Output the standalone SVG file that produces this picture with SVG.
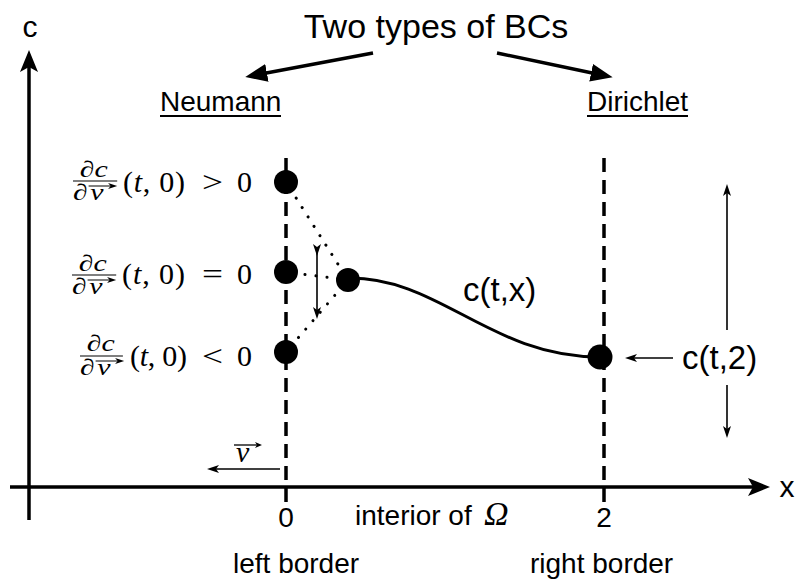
<svg xmlns="http://www.w3.org/2000/svg" width="795" height="581" viewBox="0 0 795 581">
<style>
.sans{font-family:"Liberation Sans",Arial,sans-serif;fill:#000}
.serif{font-family:"Liberation Serif","DejaVu Serif",serif;fill:#000}
.it{font-style:italic}
.axis{stroke:#000;stroke-width:3.5;fill:none}
.dash{stroke:#000;stroke-width:3.5;stroke-dasharray:14 8;fill:none}
.dot{stroke:#000;stroke-width:3;stroke-dasharray:0.1 11;stroke-linecap:round;fill:none}
.thin{stroke:#000;stroke-width:1.6;fill:none}
.bold{stroke:#000;stroke-width:3.5;fill:none}
.curve{stroke:#000;stroke-width:3;fill:none}
.bar{stroke:#000;stroke-width:1.2}
.vec{stroke:#000;stroke-width:1}
</style>
<defs>
<marker id="axh" markerUnits="userSpaceOnUse" markerWidth="26" markerHeight="20" refX="10" refY="9" orient="auto">
<path d="M0,0 L22,9 L0,18 L5,9 z" fill="#000"/>
</marker>
<marker id="bh" markerUnits="userSpaceOnUse" markerWidth="26" markerHeight="20" refX="6" refY="9" orient="auto">
<path d="M0,0 L22,9 L0,18 z" fill="#000"/>
</marker>
<marker id="th" markerUnits="userSpaceOnUse" markerWidth="14" markerHeight="10" refX="4" refY="4" orient="auto">
<path d="M0,0 L12,4 L0,8 L3,4 z" fill="#000"/>
</marker>
<marker id="vh" markerUnits="userSpaceOnUse" markerWidth="10" markerHeight="8" refX="3" refY="3" orient="auto">
<path d="M0,0 L7,3 L0,6 L2,3 z" fill="#000"/>
</marker>
</defs>

<g id="connectors">
<line class="axis" x1="29" y1="520" x2="29" y2="62" marker-end="url(#axh)"/>
<line class="axis" x1="10" y1="487" x2="758" y2="487" marker-end="url(#axh)"/>
<line class="dash" x1="286" y1="158" x2="286" y2="502"/>
<line class="dash" x1="604" y1="158" x2="604" y2="502"/>
<line class="bold" x1="373" y1="53" x2="261" y2="74" marker-end="url(#bh)"/>
<line class="bold" x1="497" y1="53" x2="597" y2="74" marker-end="url(#bh)"/>
<line class="dot" x1="286" y1="182" x2="348" y2="280" stroke-dashoffset="-8"/>
<line class="dot" x1="286" y1="272" x2="348" y2="280" stroke-dashoffset="-8"/>
<line class="dot" x1="286" y1="352" x2="348" y2="280" stroke-dashoffset="-8"/>
<line class="thin" x1="317" y1="248" x2="317" y2="311" marker-start="url(#th)" marker-end="url(#th)"/>
<path class="curve" d="M348,278 C440,277 490,357 600,357"/>
<line class="thin" x1="673" y1="358" x2="633" y2="358" marker-end="url(#th)"/>
<line class="thin" x1="727" y1="330" x2="727" y2="192" marker-end="url(#th)"/>
<line class="thin" x1="727" y1="385" x2="727" y2="430" marker-end="url(#th)"/>
<line class="thin" x1="280" y1="469" x2="215" y2="469" marker-end="url(#th)"/>
</g>

<g id="dots">
<circle cx="286" cy="182" r="12"/>
<circle cx="286" cy="272" r="12"/>
<circle cx="286" cy="352" r="12"/>
<circle cx="348" cy="280" r="12"/>
<circle cx="600" cy="357" r="12.5"/>
</g>

<g id="axis-labels">
<text class="sans" x="30" y="37" font-size="30" text-anchor="middle">c</text>
<text class="sans" x="787" y="497" font-size="30" text-anchor="middle">x</text>
<text class="sans" x="286" y="527" font-size="28" text-anchor="middle">0</text>
<text class="sans" x="604" y="527" font-size="28" text-anchor="middle">2</text>
</g>

<g id="title">
<text class="sans" x="436" y="38" font-size="34" text-anchor="middle">Two types of BCs</text>
</g>

<g id="neumann">
<text class="sans" x="160" y="111" font-size="28">Neumann</text>
<line x1="160" y1="116" x2="281" y2="116" stroke="#000" stroke-width="2"/>
</g>

<g id="dirichlet">
<text class="sans" x="587" y="111" font-size="28">Dirichlet</text>
<line x1="587" y1="116" x2="688" y2="116" stroke="#000" stroke-width="2"/>
</g>

<g id="label-gt">
<g transform="translate(73,0) scale(1.3,1)">
<text class="serif" x="16" y="177" font-size="23" text-anchor="middle">∂<tspan class="it">c</tspan></text>
<line class="bar" x1="0" y1="181" x2="34" y2="181"/>
<text class="serif" x="0" y="200" font-size="23">∂<tspan class="it" dx="2">ν</tspan></text>
<line class="vec" x1="12" y1="186" x2="30" y2="186" marker-end="url(#vh)"/>
</g>
<text class="serif" x="123" y="192" font-size="30" textLength="62" lengthAdjust="spacing">(<tspan class="it">t</tspan>, 0)</text>
<text class="serif" x="202" y="192" font-size="30" textLength="21" lengthAdjust="spacingAndGlyphs">&gt;</text>
<text class="serif" x="237" y="192" font-size="30">0</text>
</g>

<g id="label-eq">
<g transform="translate(72,0) scale(1.3,1)">
<text class="serif" x="16" y="271" font-size="23" text-anchor="middle">∂<tspan class="it">c</tspan></text>
<line class="bar" x1="0" y1="275" x2="34" y2="275"/>
<text class="serif" x="0" y="294" font-size="23">∂<tspan class="it" dx="2">ν</tspan></text>
<line class="vec" x1="12" y1="280" x2="30" y2="280" marker-end="url(#vh)"/>
</g>
<text class="serif" x="122" y="284" font-size="30" textLength="63" lengthAdjust="spacing">(<tspan class="it">t</tspan>, 0)</text>
<text class="serif" x="202" y="284" font-size="30" textLength="21" lengthAdjust="spacingAndGlyphs">=</text>
<text class="serif" x="237" y="284" font-size="30">0</text>
</g>

<g id="label-lt">
<g transform="translate(80,0) scale(1.3,1)">
<text class="serif" x="16" y="351" font-size="23" text-anchor="middle">∂<tspan class="it">c</tspan></text>
<line class="bar" x1="0" y1="356" x2="33" y2="356"/>
<text class="serif" x="0" y="375" font-size="23">∂<tspan class="it" dx="2">ν</tspan></text>
<line class="vec" x1="12" y1="361" x2="30" y2="361" marker-end="url(#vh)"/>
</g>
<text class="serif" x="130" y="366" font-size="30" textLength="57" lengthAdjust="spacing">(<tspan class="it">t</tspan>, 0)</text>
<text class="serif" x="202" y="366" font-size="30" textLength="21" lengthAdjust="spacingAndGlyphs">&lt;</text>
<text class="serif" x="237" y="366" font-size="30">0</text>
</g>

<g id="nu-label">
<text class="serif it" x="236" y="462" font-size="30">ν</text>
<line x1="234" y1="445" x2="258" y2="445" stroke="#000" stroke-width="1.3" marker-end="url(#vh)"/>
</g>

<g id="ctx-label">
<text class="sans" x="463" y="301" font-size="33">c(t,x)</text>
</g>

<g id="ct2-label">
<text class="sans" x="682" y="369" font-size="33">c(t,2)</text>
</g>

<g id="interior-label">
<text class="sans" x="355" y="525" font-size="28">interior of</text>
<text class="serif it" x="484" y="525" font-size="34">Ω</text>
</g>

<g id="border-labels">
<text class="sans" x="233" y="573" font-size="28">left border</text>
<text class="sans" x="530" y="573" font-size="28">right border</text>
</g>
</svg>
